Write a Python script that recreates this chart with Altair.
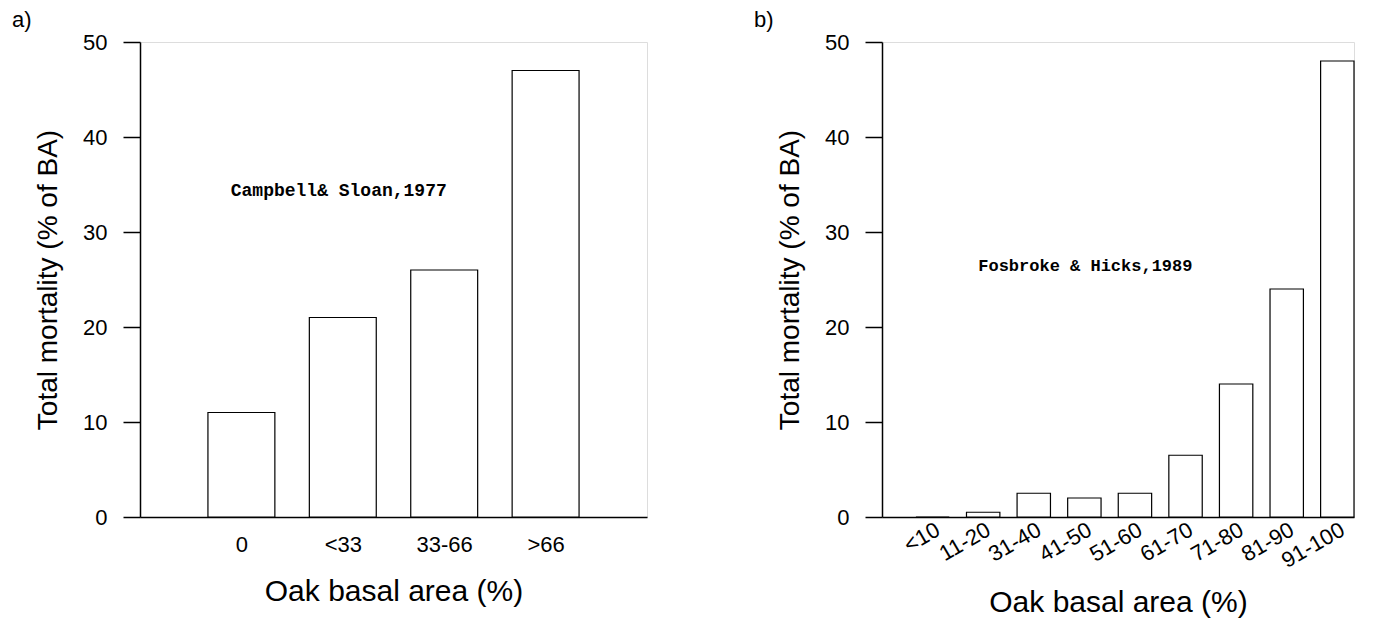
import altair as alt
import pandas as pd

# Panel a data
cats_a = ["0", "<33", "33-66", ">66"]
vals_a = [11, 21, 26, 47]
# Panel b data
cats_b = ["<10", "11-20", "31-40", "41-50", "51-60", "61-70", "71-80", "81-90", "91-100"]
vals_b = [0, 0.5, 2.5, 2, 2.5, 6.5, 14, 24, 48]

y_ticks = [0, 10, 20, 30, 40, 50]
note_a = "Campbell& Sloan,1977"
note_b = "Fosbroke & Hicks,1989"

FONT = "Liberation Sans"
MONO = "Liberation Mono"
HALF = 0.33


def make_df(cats, vals):
    return pd.DataFrame({"i": list(range(1, len(cats) + 1)), "cat": cats, "v": vals})


def label_expr(cats):
    arr = ",".join("'" + c + "'" for c in [""] + cats)
    return "[" + arr + "][datum.value]"


def panel(cats, vals, xmax, angle, note, nx, ny, nsize, tag, w, lpad, tpad):
    df = make_df(cats, vals)
    xaxis = alt.Axis(
        values=list(range(1, len(cats) + 1)),
        labelExpr=label_expr(cats),
        ticks=False,
        grid=False,
        labelAngle=angle,
        labelFontSize=22,
        labelFont=FONT,
        labelColor="black",
        labelPadding=lpad,
        title="Oak basal area (%)",
        titleFontSize=30,
        titleFont=FONT,
        titleFontWeight="normal",
        titleColor="black",
        titlePadding=tpad,
        domainColor="black",
        domainWidth=1.5,
        labelOverlap=False,
    )
    yaxis = alt.Axis(
        values=y_ticks,
        grid=False,
        tickSize=17,
        tickColor="black",
        tickWidth=1.5,
        labelFontSize=22,
        labelFont=FONT,
        labelColor="black",
        labelPadding=16,
        title="Total mortality (% of BA)",
        titleFontSize=28,
        titleFont=FONT,
        titleFontWeight="normal",
        titleColor="black",
        titlePadding=20,
        domainColor="black",
        domainWidth=1.5,
    )
    xs = alt.Scale(domain=[0, xmax], nice=False, zero=True)
    ys = alt.Scale(domain=[0, 50], nice=False)
    bars = alt.Chart(df).transform_calculate(
        x0="datum.i - " + str(HALF), x1="datum.i + " + str(HALF), base="0"
    ).mark_bar(fill="white", stroke="black", strokeWidth=1.2).encode(
        x=alt.X("x0:Q", scale=xs, axis=xaxis),
        x2="x1:Q",
        y=alt.Y("v:Q", scale=ys, axis=yaxis),
        y2="base:Q",
    )
    text = alt.Chart(pd.DataFrame({"t": [note]})).mark_text(
        font=MONO, fontWeight="bold", fontSize=nsize, color="black"
    ).encode(x=alt.datum(nx), y=alt.datum(ny), text="t:N")
    return alt.layer(bars, text).properties(
        width=w,
        height=475,
        title=alt.TitleParams(
            text=tag, anchor="start", frame="group", dx=-128, fontSize=22,
            font=FONT, fontWeight="normal", color="black", offset=-1,
        ),
    )


a = panel(cats_a, vals_a, 5.0, 0, note_a, 1.96, 34.3, 18, "a)", 507, 17, 21)
b = panel(cats_b, vals_b, 9.33, -30, note_b, 4.02, 26.4, 17, "b)", 472, 2, 16)

chart = alt.hconcat(a, b, spacing=105).properties(
    padding={"left": 3, "top": 0, "right": 0, "bottom": 0}
).configure_view(strokeWidth=0).configure(background="white")

chart.save("out.html", embed_options={"renderer": "svg", "actions": False})
